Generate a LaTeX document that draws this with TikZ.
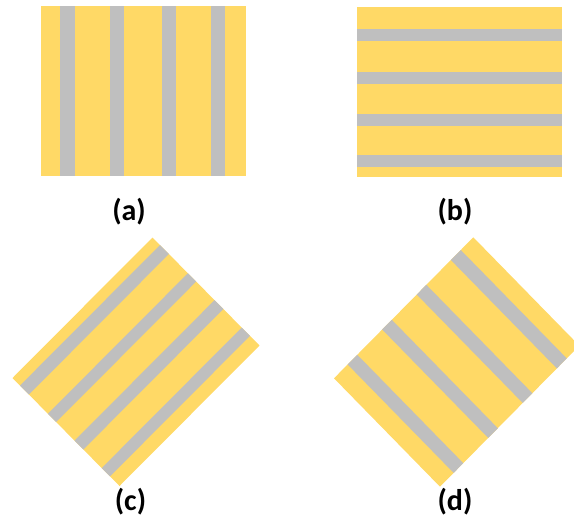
\documentclass[tikz,border=0pt]{standalone}
\usepackage{fontspec}
\setmainfont{Carlito}
\usetikzlibrary{calc}
\definecolor{gold}{HTML}{FFD966}
\definecolor{stripegray}{HTML}{BFBFBF}
\begin{document}
\begin{tikzpicture}[x=1pt,y=-1pt,
  panel/.style={fill=gold},
  stripe/.style={fill=stripegray},
  lbl/.style={font=\bfseries\fontsize{30}{34}\selectfont, inner sep=0pt, anchor=center}]
\useasboundingbox (0,0) rectangle (574,520);
\clip (0,0) rectangle (574,520);
% (a)
\fill[panel] (41,6) rectangle (246,176);
\foreach \a/\b in {60/74.5,110/124,161.5/175.5,211/225}
  \fill[stripe] (\a,6) rectangle (\b,176);
% (b)
\fill[panel] (357,7) rectangle (562,177);
\foreach \a/\b in {29.3/41,71.7/83.7,114/126,155.3/167}
  \fill[stripe] (357,\a) rectangle (562,\b);
% (c)
\coordinate (cL) at (12.5,378);
\coordinate (cT) at (152.5,237.5);
\coordinate (cB) at (119.5,486);
\coordinate (cR) at (259.5,345.5);
\fill[panel] (cL) -- (cT) -- (cR) -- (cB) -- cycle;
\foreach \a/\b in {0.07/0.153,0.331/0.408,0.58/0.662,0.834/0.911}
  \fill[stripe] ($(cT)!\a!(cR)$) -- ($(cT)!\b!(cR)$) -- ($(cL)!\b!(cB)$) -- ($(cL)!\a!(cB)$) -- cycle;
% (d)
\coordinate (dL) at (334,378.3);
\coordinate (dT) at (473.3,237.3);
\coordinate (dB) at (440,486.7);
\coordinate (dR) at (579.3,345.7);
\fill[panel] (dL) -- (dT) -- (dR) -- (dB) -- cycle;
\foreach \a/\b in {0.098/0.167,0.346/0.415,0.594/0.663,0.839/0.91}
  \fill[stripe] ($(dL)!\a!(dT)$) -- ($(dL)!\b!(dT)$) -- ($(dB)!\b!(dR)$) -- ($(dB)!\a!(dR)$) -- cycle;
% labels
\node[lbl] (la) at (129,212) {(a)};
\node[lbl] (lb) at (455,212) {(b)};
\node[lbl] (lc) at (130.5,502) {(c)};
\node[lbl] (ld) at (455,502) {(d)};
\end{tikzpicture}
\end{document}
